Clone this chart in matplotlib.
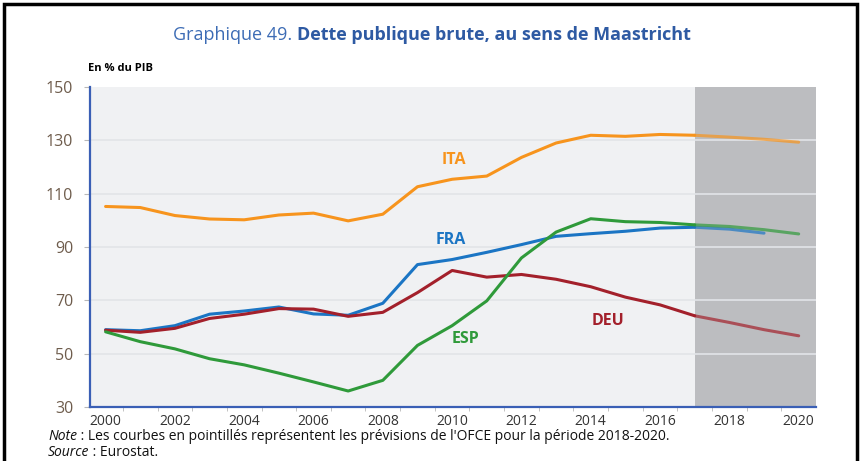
import matplotlib.pyplot as plt
from matplotlib.patches import Rectangle

years = list(range(2000, 2021))

ita = [105.2, 104.8, 101.8, 100.5, 100.2, 102.0, 102.7, 99.8, 102.3, 112.6,
       115.4, 116.6, 123.6, 129.0, 131.9, 131.5, 132.2, 131.9, 131.2, 130.4,
       129.3]
fra = [59.0, 58.6, 60.5, 64.8, 66.0, 67.5, 64.9, 64.4, 68.9, 83.4,
       85.3, 88.0, 90.9, 94.0, 95.0, 95.9, 97.1, 97.4, 96.7, 95.2]
esp = [58.2, 54.5, 51.8, 48.1, 45.8, 42.7, 39.4, 36.0, 40.0, 53.1,
       60.5, 69.8, 85.9, 95.6, 100.6, 99.5, 99.2, 98.3, 97.7, 96.5,
       94.9]
deu = [58.8, 58.0, 59.5, 63.2, 64.8, 66.9, 66.7, 64.0, 65.5, 72.9,
       81.2, 78.7, 79.7, 77.9, 75.1, 71.2, 68.3, 64.2, 61.7, 59.0,
       56.7]

forecast_start = 2017
y_ticks = [30, 50, 70, 90, 110, 130, 150]
x_ticks = list(range(2000, 2021, 2))

series = [
    ("ITA", ita, "#f7941d", (2010.05, 122.5)),
    ("FRA", fra, "#1b75c4", (2009.95, 92.8)),
    ("DEU", deu, "#a3202b", (2014.5, 62.2)),
    ("ESP", esp, "#2f9a3a", (2010.4, 55.5)),
]


def text_pair(fig, x, y, first, second, style1, style2, center=False):
    """Write two texts side by side, in pixels from the top left"""
    fig.canvas.draw()
    r = fig.canvas.get_renderer()
    t1 = fig.text(0, 0, first, va="center", ha="left", **style1)
    t2 = fig.text(0, 0, second, va="center", ha="left", **style2)
    w1 = t1.get_window_extent(r).width
    w2 = t2.get_window_extent(r).width
    if center:
        x = x - (w1 + w2) / 2
    W, H = fig.bbox.width, fig.bbox.height
    t1.set_position((x / W, 1 - y / H))
    t2.set_position(((x + w1) / W, 1 - y / H))


def draw_chart():
    fig = plt.figure(figsize=(8.61, 4.61), dpi=100)
    ax = fig.add_axes([90 / 861, 54 / 461, 726 / 861, 320 / 461])
    ax.set_facecolor("#f0f1f3")

    xmin, xmax = 1999.55, 2020.5
    ax.set_xlim(xmin, xmax)
    ax.set_ylim(30, 150)

    # forecast zone
    ax.axvspan(forecast_start, xmax, color="#bcbdc0", zorder=0.5, lw=0)

    for y in y_ticks[1:-1]:
        ax.axhline(y, color="#e2e4e8", lw=1.2, zorder=0.6)

    for name, vals, color, pos in series:
        xs = years[:len(vals)]
        n = forecast_start - 2000
        ax.plot(xs[:n + 1], vals[:n + 1], color=color, lw=2.2, zorder=3,
                solid_capstyle="round")
        ax.plot(xs[n:], vals[n:], color=color, lw=2.2, alpha=0.7, zorder=3,
                solid_capstyle="round")
        ax.text(pos[0], pos[1], name, color=color, fontsize=11.5,
                fontweight="bold", ha="center", va="center",
                family="Open Sans")

    for side in ["top", "right"]:
        ax.spines[side].set_visible(False)
    for side in ["left", "bottom"]:
        ax.spines[side].set_color("#3a5fb5")
        ax.spines[side].set_linewidth(1.6)

    ax.set_yticks(y_ticks)
    ax.set_yticklabels([str(v) for v in y_ticks], color="#6e5c4c",
                       fontsize=11.5, family="Open Sans")
    ax.tick_params(axis="y", length=4, color="#b8b8b8", pad=8)

    ax.set_xticks(x_ticks)
    ax.set_xticklabels([str(v) for v in x_ticks], color="#333333",
                       fontsize=10, family="Open Sans")
    ax.set_xticks([y + 0.5 for y in years[:-1]], minor=True)
    ax.tick_params(axis="x", which="major", length=0, pad=5)
    ax.tick_params(axis="x", which="minor", length=3, color="#b8b8b8")

    # titles and notes
    text_pair(fig, 432, 35, "Graphique 49. ",
              "Dette publique brute, au sens de Maastricht",
              dict(color="#3d6cb5", fontsize=13, family="Open Sans"),
              dict(color="#2e5aa3", fontsize=13, fontweight="bold",
                   family="Open Sans"),
              center=True)
    fig.text(88 / 861, 1 - 68 / 461, "En % du PIB", fontsize=8,
             fontweight="bold", ha="left", va="center", family="Open Sans")
    note = dict(fontsize=10, family="Open Sans", color="#111111")
    text_pair(fig, 48, 436, "Note",
              " : Les courbes en pointillés représentent les prévisions de "
              "l'OFCE pour la période 2018-2020.",
              dict(style="italic", **note), note)
    text_pair(fig, 48, 452, "Source", " : Eurostat.",
              dict(style="italic", **note), note)

    # outer frame
    fig.patches.append(Rectangle((4 / 861, -0.05), 853 / 861, 1.05 - 4 / 461,
                                 transform=fig.transFigure, fill=False,
                                 edgecolor="black", lw=2.5))

    fig.savefig("out.png", dpi=100)


if __name__ == "__main__":
    draw_chart()
